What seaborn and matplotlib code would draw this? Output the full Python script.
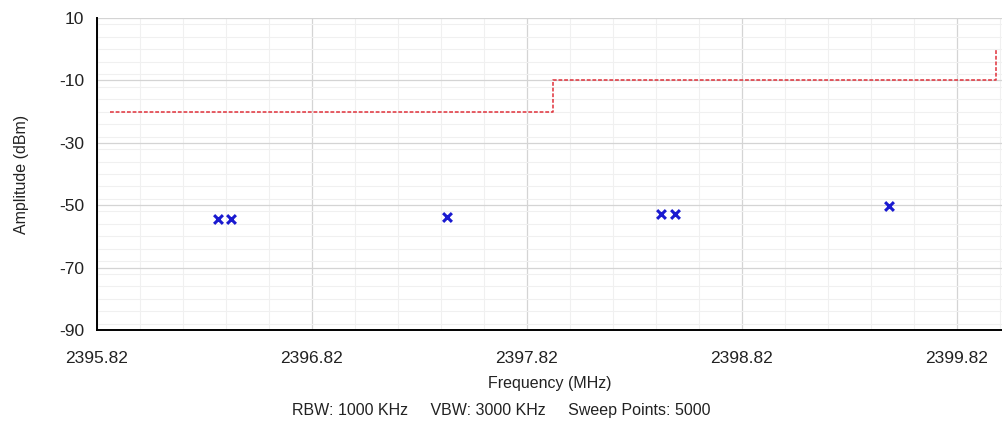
import numpy as np
import pandas as pd
import matplotlib
matplotlib.use("Agg")
import matplotlib.pyplot as plt
from matplotlib.ticker import MultipleLocator, FixedLocator
import seaborn as sns

# === Data ===
peak_freq = [2396.383, 2396.443, 2397.448, 2398.443, 2398.508, 2399.504]
peak_amp = [-54.4, -54.4, -53.8, -52.8, -52.8, -50.3]

limit_freq = [2395.88, 2397.94, 2397.94, 2400.0, 2400.0]
limit_amp = [-20, -20, -10, -10, 0]

x_ticks = [2395.82, 2396.82, 2397.82, 2398.82, 2399.82]
y_ticks = [10, -10, -30, -50, -70, -90]
footer = "RBW: 1000 KHz     VBW: 3000 KHz     Sweep Points: 5000"

peaks = pd.DataFrame({"freq": peak_freq, "amp": peak_amp})
limit = pd.DataFrame({"freq": limit_freq, "amp": limit_amp})

sns.set_style("white")
plt.rcParams['font.family'] = ['Liberation Sans', 'DejaVu Sans']

fig = plt.figure(figsize=(10.03, 4.30), dpi=100)
ax = fig.add_axes([97 / 1003, 1 - 330 / 430, (1002 - 97) / 1003, 312 / 430])

# limit line (no aggregation, keep the step order)
sns.lineplot(data=limit, x="freq", y="amp", sort=False, estimator=None,
             errorbar=None, ax=ax, color="#e0303a",
             linestyle=(0, (2.5, 1.2)), linewidth=1.1)
sns.scatterplot(data=peaks, x="freq", y="amp", ax=ax, marker="x",
                color="#1a1ad0", s=40, linewidth=2.2, zorder=5)

ax.set_xlim(2395.82, 2400.03)
ax.set_ylim(-90, 10)
ax.xaxis.set_major_locator(FixedLocator(x_ticks))
ax.xaxis.set_minor_locator(FixedLocator(np.arange(2395.82, 2400.03, 0.2)))
ax.yaxis.set_major_locator(FixedLocator(y_ticks))
ax.yaxis.set_minor_locator(MultipleLocator(4))
ax.set_xticklabels([f"{t:.2f}" for t in x_ticks])
ax.set_yticklabels([str(t) for t in y_ticks])

ax.grid(True, which="major", color="#d4d4d4", linewidth=0.9)
ax.grid(True, which="minor", color="#f0f0f0", linewidth=0.8)
ax.set_axisbelow(True)

for side in ["top", "right"]:
    ax.spines[side].set_visible(False)
for side in ["left", "bottom"]:
    ax.spines[side].set_color("black")
    ax.spines[side].set_linewidth(1.4)

ax.tick_params(axis="both", which="major", direction="out", length=7,
               width=1, color="black", labelsize=12.5, labelcolor="#222222")
ax.tick_params(axis="x", which="major", pad=8)
ax.tick_params(axis="y", which="major", pad=2)
ax.tick_params(axis="both", which="minor", length=0)

ax.set_xlabel("Frequency (MHz)", fontsize=11.5, color="#222222", labelpad=7)
ax.set_ylabel("Amplitude (dBm)", fontsize=11.5, color="#222222", labelpad=22)

fig.text(0.5, 1 - 410 / 430, footer, ha="center", va="center",
         fontsize=11.5, color="#222222")

fig.savefig("out.png", dpi=100)
